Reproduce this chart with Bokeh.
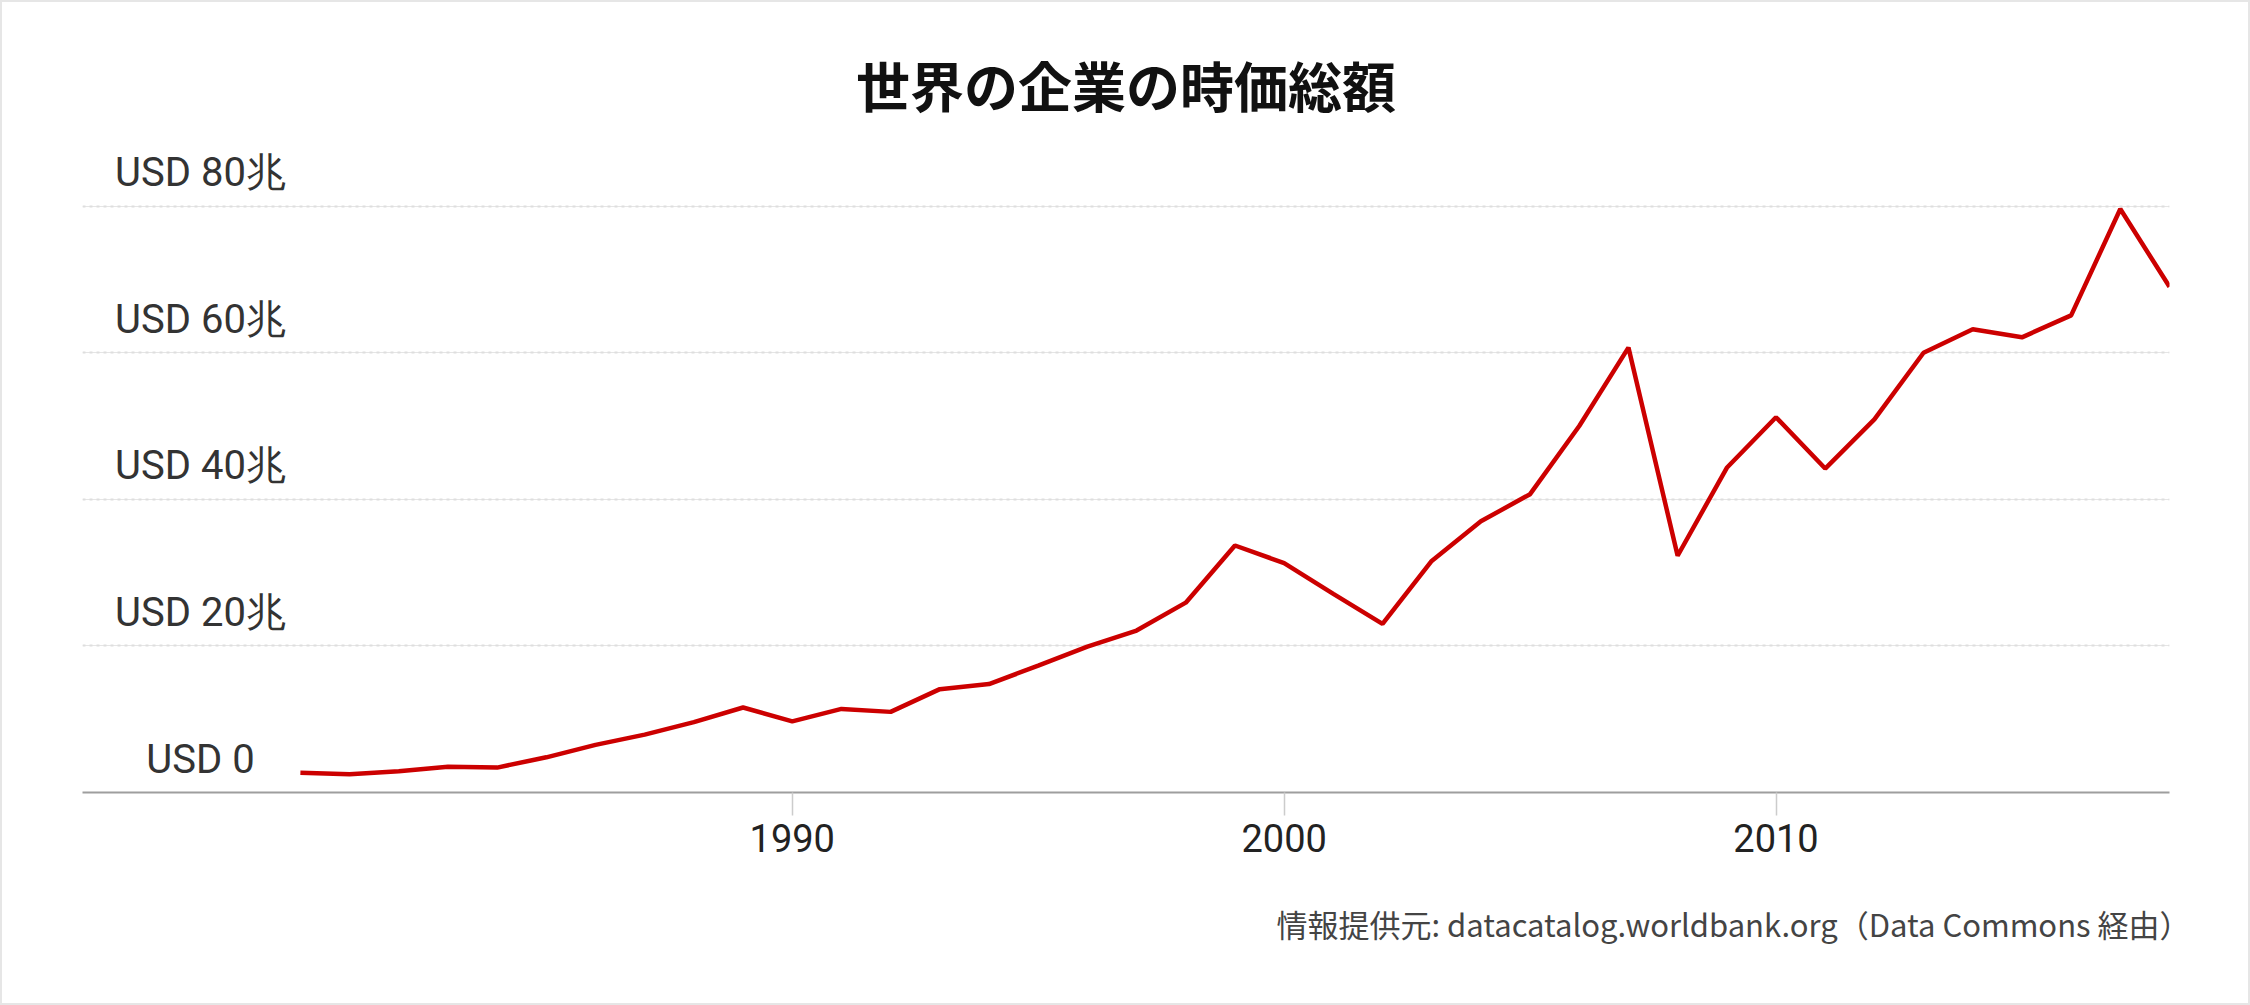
from bokeh.plotting import figure
from bokeh.models import Range1d, FixedTicker, LabelSet, ColumnDataSource, Title, Grid
from bokeh.embed import file_html
from bokeh.resources import INLINE
from bokeh.core.properties import value

# ---- data ----
years = list(range(1980, 2019))
market_cap_tn = [2.7, 2.5, 2.9, 3.5, 3.4, 4.8, 6.5, 7.9, 9.6, 11.6,
                 9.7, 11.4, 11.0, 14.1, 14.8, 17.3, 19.9, 22.1, 25.9, 33.7,
                 31.3, 27.1, 23.0, 31.6, 37.0, 40.7, 50.0, 60.7, 32.3, 44.3,
                 51.2, 44.2, 50.9, 60.0, 63.2, 62.1, 65.1, 79.6, 69.0]
y_ticks = [0, 20, 40, 60, 80]
y_tick_labels = ["USD 0", "USD 20兆", "USD 40兆", "USD 60兆", "USD 80兆"]
x_ticks = [1990, 2000, 2010]
title_text = "世界の企業の時価総額"
source_text = "情報提供元: datacatalog.worldbank.org（Data Commons 経由）"

# ---- figure ----
p = figure(width=2250, height=1005, output_backend="svg", toolbar_location=None,
           x_range=Range1d(1975.57, 2018.0), y_range=Range1d(0, 88),
           y_axis_location=None,
           min_border_left=80, min_border_right=83,
           min_border_top=145, min_border_bottom=215)
p.outline_line_color = None
p.background_fill_color = "white"
p.border_fill_color = "white"
p.styles = {"border": "2px solid #e6e6e6", "box-sizing": "border-box"}

p.title = Title(text=title_text, align="center", text_font="Noto Sans CJK JP",
                text_font_size="54px", text_font_style="bold", text_color="#111111",
                standoff=47)

# grid
p.xgrid.visible = False
p.add_layout(Grid(dimension=1, ticker=FixedTicker(ticks=y_ticks[1:]),
                  grid_line_color="#dedede", grid_line_width=2,
                  grid_line_dash="3 4"))

# x axis
xa = p.xaxis[0]
xa.ticker = FixedTicker(ticks=x_ticks)
xa.major_label_text_font = "Roboto"
xa.major_label_text_font_size = "38px"
xa.major_label_text_color = "#222222"
xa.major_tick_out = 23
xa.major_tick_in = 0
xa.major_tick_line_color = "#cccccc"
xa.major_tick_line_width = 1.5
xa.minor_tick_line_color = None
xa.axis_line_color = "#9e9e9e"
xa.axis_line_width = 2
xa.major_label_standoff = 8

# y labels above gridlines
lab_src = ColumnDataSource(dict(x=[118] * len(y_ticks), y=y_ticks, text=y_tick_labels))
p.add_layout(LabelSet(x="x", y="y", text="text", source=lab_src, x_units="screen",
                      text_align="center", text_baseline="alphabetic", y_offset=20,
                      text_font=value("Roboto"), text_font_size="40px",
                      text_color="#333333"))

# line
p.line(years, market_cap_tn, line_color="#cc0000", line_width=4.5)

# source note
p.add_layout(Title(text=source_text, align="right", text_font="Noto Sans CJK JP",
                   text_font_size="31px", text_font_style="normal",
                   text_color="#444444", standoff=89, offset=-21), "below")

open("out.html", "w").write(file_html(p, INLINE))
